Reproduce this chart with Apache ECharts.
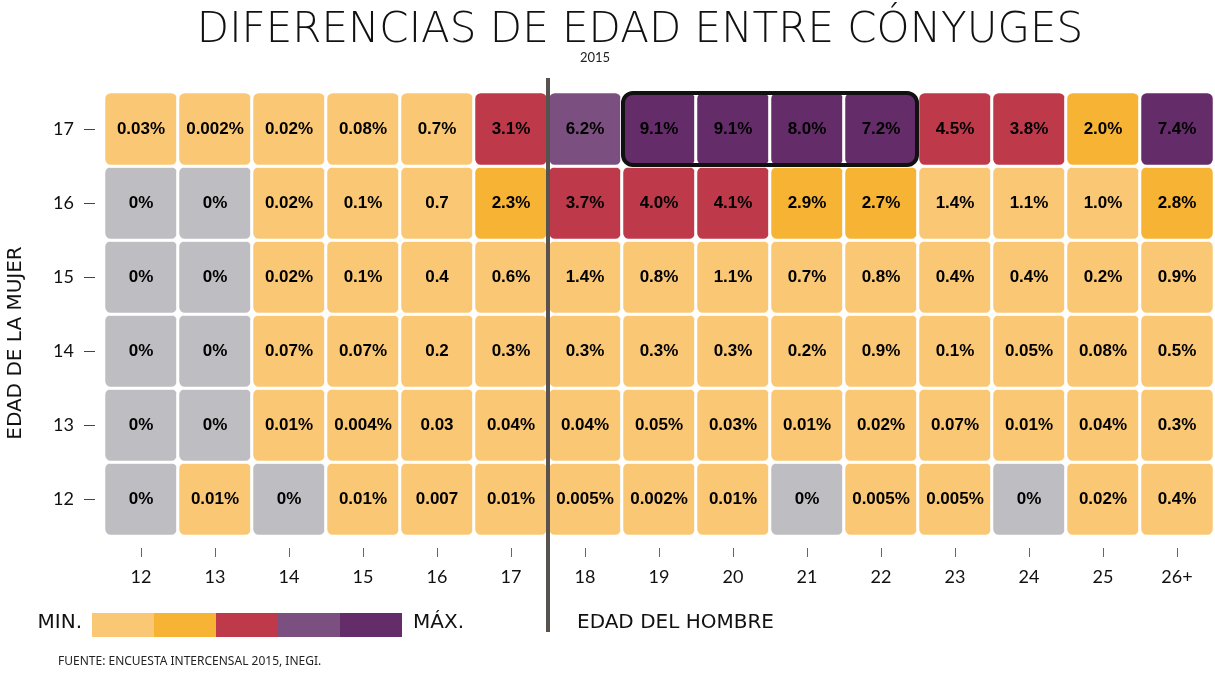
<!DOCTYPE html>
<html>
<head>
<meta charset="utf-8">
<script src="https://cdn.jsdelivr.net/npm/echarts@6/dist/echarts.min.js"></script>
<style>
    html, body { margin: 0; padding: 0; background: #fff; }
    #chart { width: 1215px; height: 673px; }
</style>
</head>
<body>
<div id="chart"></div>
<script>
// edad del hombre (eje x) y edad de la mujer (eje y)
var xCats = ['12', '13', '14', '15', '16', '17', '18', '19', '20', '21', '22', '23', '24', '25', '26+'];
var yCats = ['12', '13', '14', '15', '16', '17'];

// etiquetas de cada fila, tal como aparecen en la imagen
var row12 = ['0%', '0.01%', '0%', '0.01%', '0.007', '0.01%', '0.005%', '0.002%', '0.01%', '0%', '0.005%', '0.005%', '0%', '0.02%', '0.4%'];
var row13 = ['0%', '0%', '0.01%', '0.004%', '0.03', '0.04%', '0.04%', '0.05%', '0.03%', '0.01%', '0.02%', '0.07%', '0.01%', '0.04%', '0.3%'];
var row14 = ['0%', '0%', '0.07%', '0.07%', '0.2', '0.3%', '0.3%', '0.3%', '0.3%', '0.2%', '0.9%', '0.1%', '0.05%', '0.08%', '0.5%'];
var row15 = ['0%', '0%', '0.02%', '0.1%', '0.4', '0.6%', '1.4%', '0.8%', '1.1%', '0.7%', '0.8%', '0.4%', '0.4%', '0.2%', '0.9%'];
var row16 = ['0%', '0%', '0.02%', '0.1%', '0.7', '2.3%', '3.7%', '4.0%', '4.1%', '2.9%', '2.7%', '1.4%', '1.1%', '1.0%', '2.8%'];
var row17 = ['0.03%', '0.002%', '0.02%', '0.08%', '0.7%', '3.1%', '6.2%', '9.1%', '9.1%', '8.0%', '7.2%', '4.5%', '3.8%', '2.0%', '7.4%'];
var rows = [row12, row13, row14, row15, row16, row17];

// recuadro negro: de 19 a 22 en la fila 17
var boxFrom = '19', boxTo = '22', boxRow = '17';
// linea vertical entre 17 y 18
var dividerAfter = '17';

var data = [];
for (var j = 0; j < rows.length; j++) {
    for (var i = 0; i < rows[j].length; i++) {
        data.push([i, j, parseFloat(rows[j][i])]);
    }
}

var myChart = echarts.init(document.getElementById('chart'));
var font = 'Lato, "Noto Sans", sans-serif';
var wide = '"DejaVu Sans", sans-serif';

var option = {
    backgroundColor: '#fff',
    animation: false,
    graphic: [
        {
            type: 'text', x: 640, y: 31,
            style: { text: 'DIFERENCIAS DE EDAD ENTRE CÓNYUGES', font: '300 42px ' + wide, fill: '#111', textAlign: 'center', textVerticalAlign: 'middle' }
        },
        {
            type: 'text', x: 595, y: 58,
            style: { text: '2015', font: '13px ' + font, fill: '#222', textAlign: 'center', textVerticalAlign: 'middle' }
        },
        {
            type: 'text', x: 16, y: 343, rotation: Math.PI / 2,
            style: { text: 'EDAD DE LA MUJER', font: '20px ' + wide, fill: '#111', textAlign: 'center', textVerticalAlign: 'middle' }
        },
        {
            type: 'text', x: 577, y: 623,
            style: { text: 'EDAD DEL HOMBRE', font: '20px ' + wide, fill: '#111', textAlign: 'left', textVerticalAlign: 'middle' }
        },
        {
            type: 'text', x: 82, y: 623,
            style: { text: 'MIN.', font: '20px ' + wide, fill: '#111', textAlign: 'right', textVerticalAlign: 'middle' }
        },
        {
            type: 'text', x: 413, y: 623,
            style: { text: 'MÁX.', font: '20px ' + wide, fill: '#111', textAlign: 'left', textVerticalAlign: 'middle' }
        },
        {
            type: 'text', x: 58, y: 662,
            style: { text: 'FUENTE: ENCUESTA INTERCENSAL 2015, INEGI.', font: '12px "Noto Sans", sans-serif', fill: '#222', textAlign: 'left', textVerticalAlign: 'middle' }
        }
    ],
    grid: {
        left: 104,
        right: 1,
        top: 92,
        bottom: 137,
        outerBoundsMode: 'none'
    },
    xAxis: {
        type: 'category',
        data: xCats,
        offset: 12,
        axisLine: { show: false },
        axisTick: { show: true, alignWithLabel: true, length: 9, lineStyle: { color: '#666' } },
        axisLabel: { margin: 20, fontSize: 18, color: '#111', fontFamily: font },
        splitLine: { show: false }
    },
    yAxis: {
        type: 'category',
        data: yCats,
        offset: 9,
        axisLine: { show: false },
        axisTick: { show: true, alignWithLabel: true, length: 11, lineStyle: { color: '#444' } },
        axisLabel: { margin: 21, fontSize: 18, color: '#111', fontFamily: font },
        splitLine: { show: false }
    },
    visualMap: {
        type: 'piecewise',
        seriesIndex: 0,
        dimension: 2,
        orient: 'horizontal',
        left: 77,
        top: 598,
        itemWidth: 62,
        itemHeight: 24,
        itemGap: 0,
        itemSymbol: 'rect',
        showLabel: false,
        hoverLink: false,
        selectedMode: false,
        pieces: [
            { gt: 0, lt: 2, color: '#FAC874' },
            { gte: 2, lt: 3, color: '#F7B334' },
            { gte: 3, lt: 5, color: '#BE3A4A' },
            { gte: 5, lt: 7, color: '#7B5080' },
            { gte: 7, color: '#652C6A' }
        ],
        outOfRange: { color: '#BEBDC1' }
    },
    series: [
        {
            type: 'heatmap',
            data: data,
            itemStyle: { borderColor: '#fff', borderWidth: 3, borderRadius: 7 },
            label: {
                show: true,
                fontSize: 17,
                fontWeight: 'bold',
                fontFamily: '"Liberation Sans", Arial, sans-serif',
                color: '#000',
                formatter: function (p) { return rows[p.value[1]][p.value[0]]; }
            },
            emphasis: { disabled: true }
        },
        {
            type: 'custom',
            coordinateSystem: 'cartesian2d',
            data: [[xCats.indexOf(boxFrom), yCats.indexOf(boxRow)]],
            z: 5,
            silent: true,
            renderItem: function (params, api) {
                var s = api.size([1, 1]);
                var a = api.coord([xCats.indexOf(boxFrom), yCats.indexOf(boxRow)]);
                var b = api.coord([xCats.indexOf(boxTo), yCats.indexOf(boxRow)]);
                return {
                    type: 'rect',
                    shape: { x: a[0] - s[0] / 2 + 1, y: a[1] - s[1] / 2 + 1, width: b[0] - a[0] + s[0] - 2, height: s[1] - 2, r: 10 },
                    style: { fill: 'none', stroke: '#111', lineWidth: 4 }
                };
            }
        },
        {
            type: 'custom',
            coordinateSystem: 'cartesian2d',
            data: [[xCats.indexOf(dividerAfter), 0]],
            z: 6,
            silent: true,
            clip: false,
            renderItem: function (params, api) {
                var s = api.size([1, 1]);
                var c = api.coord([xCats.indexOf(dividerAfter), 0]);
                var cs = params.coordSys;
                var x = c[0] + s[0] / 2;
                return {
                    type: 'line',
                    shape: { x1: x, y1: cs.y - 14, x2: x, y2: cs.y + cs.height + 96 },
                    style: { stroke: '#57524E', lineWidth: 4 }
                };
            }
        }
    ]
};

myChart.setOption(option);
</script>
</body>
</html>
